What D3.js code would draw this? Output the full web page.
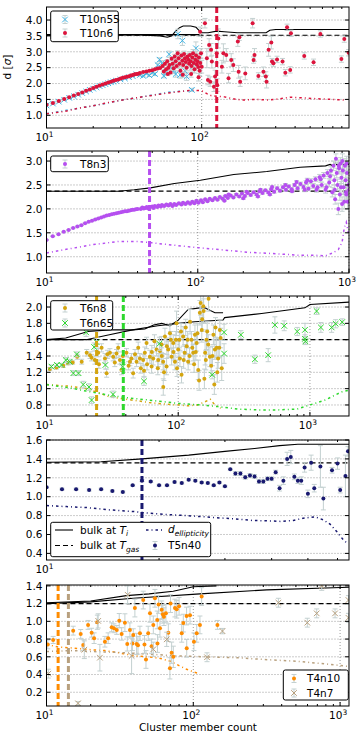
<!DOCTYPE html>
<html>
<head>
<meta charset="utf-8">
<script src="https://cdn.jsdelivr.net/npm/d3@7"></script>
<style>
  body { margin: 0; background: #fff; }
  svg { display: block; }
  svg text { font-family: "DejaVu Sans", sans-serif; fill: #000; }
</style>
</head>
<body>
<script>
const width = 360;
const height = 750;
const left = 46.5;
const right = 349;

// ---- panel 1 : T10 ----
const t10n55 = [[10,1.31,.01],[11,1.37,.01],[12,1.43,.01],[13,1.49,.01],[14,1.55,.01],[15,1.6,.01],[16,1.65,.01],[17,1.7,.01],[18,1.75,.01],[19,1.8,.01],[20,1.84,.01],[21,1.88,.01],[22,1.92,.01],[23,1.95,.01],[24,1.98,.01],[25,2.01,.01],[26,2.04,.01],[27,2.06,.01],[28,2.09,.01],[30,2.13,.02],[32,2.16,.02],[34,2.2,.02],[36,2.23,.02],[38,2.29,.02],[40,2.27,.03],[42,2.24,.03],[44,2.31,.03],[46,2.26,.04],[48,2.34,.04],[50,2.3,.05],[52,2.58,.06],[53.5,2.75,.06],[55.4,2.64,.08],[57,2.24,.06],[59,2.35,.08],[61.7,2.92,.1],[64.2,2.53,.1],[66,2.42,.1],[68,2.3,.1],[70.2,3.56,.15],[72.6,2.27,.1],[75.1,3.35,.15],[78,2.4,.15],[80,2.22,.12],[86.4,1.8,.05],[88,2.55,.2],[91.8,3.11,.2]];
const t10n6 = [[10,1.33,.01],[11,1.39,.01],[12,1.45,.01],[13,1.51,.01],[14,1.57,.01],[15,1.62,.01],[16,1.67,.01],[17,1.72,.01],[18,1.77,.01],[19,1.81,.01],[20,1.86,.01],[21,1.9,.01],[22,1.94,.01],[23,1.97,.01],[24,2.0,.01],[25,2.03,.01],[26,2.06,.01],[27,2.09,.01],[28,2.11,.01],[29,2.13,.01],[30,2.16,.01],[31,2.18,.01],[32,2.2,.01],[33,2.21,.01],[34,2.23,.01],[35,2.25,.01],[36,2.27,.01],[37,2.29,.01],[38,2.3,.01],[39,2.31,.01],[40,2.33,.01],[42,2.36,.01],[44,2.38,.02],[46,2.4,.02],[48,2.42,.02],[50,2.45,.02],[52,2.47,.02],[54,2.49,.02],
  [56,2.55,.04],[57,2.38,.04],[58,2.62,.05],[59,2.45,.04],[60,2.7,.05],[60.5,2.3,.05],[61,2.5,.05],[62,2.58,.05],[63,2.35,.05],[64,2.78,.06],[65,2.62,.06],[66,2.48,.06],[67,2.85,.07],[68,2.7,.07],[69,2.55,.07],[70,2.95,.08],[71,2.8,.08],[72,2.62,.08],[73,2.4,.08],[74,2.88,.08],[75,2.72,.08],[75.5,2.28,.08],[76,2.58,.09],[77,2.93,.09],[78,2.8,.09],[79,2.68,.09],[80,2.5,.1],[81,2.85,.1],[82,2.75,.1],[83,2.62,.1],[84,2.9,.1],[85,2.7,.1],[85.5,2.3,.1],[86,2.55,.1],[87,2.82,.1],[88,2.95,.12],[89,2.65,.12],[90,2.45,.12],[91,2.75,.12],[92,2.88,.12],[93,2.6,.12],[94,2.7,.12],[95,2.52,.12],[95.5,2.2,.12],[96,2.82,.12],[97,2.4,.15],[98,2.65,.15],[99,2.95,.15],
  [97.7,3.63,.15],[100,2.53,.2],[105,3.9,.15],[108,2.8,.3],[109.7,2.11,.15],[111.7,3.21,.2],[113.5,2.06,.15],[115,3.06,.2],[116.3,2.69,.2],[120,1.9,.15],[122,2.22,.2],[125,2.95,.3],[126,1.95,.2],[128,3.42,.3],[135,2.53,.2],[138,2.95,.3],[144,2.9,.2],[149,2.17,.15],[155,2.74,.2],[160,2.58,.2],[171,3.32,.15],[173,2.37,.2],[175,3.46,.1],[177,2.06,.15],[191,2.32,.2],[213,3.9,.15],[216,2.74,.1],[219,2.9,.2],[232,2.24,.1],[250,2.37,.15],[259,2.22,.15],[262,2.06,.2],[270,3.06,.2],[281,3.29,.2],[284,2.69,.1],[290,2.64,.1],[306,2.76,.1],[332,2.69,.1],[346,2.34,.1],[355,3.77,.1],[372,2.43,.1],[376,3.58,.1],[458,2.87,.1],[526,2.67,.1],[582,3.56,.1],[795,2.77,.1],[830,3.4,.1],[885,2.97,.1]];
const t10n55Ell = [[10,1.05],[20,1.3],[30,1.47],[40,1.57],[50,1.65],[60,1.72],[70,1.75],[80,1.77],[88,1.78]];
const t10n6Ell = [[10,1.05],[13,1.12],[16,1.22],[20,1.3],[25,1.4],[30,1.47],[40,1.57],[50,1.64],[60,1.7],[70,1.74],[80,1.77],[90,1.79],[100,1.77],[108,1.68],[115,1.62],[125,1.6],[140,1.58],[160,1.52],[180,1.48],[220,1.5],[270,1.48],[320,1.52],[372,1.57],[450,1.55],[550,1.52],[700,1.5],[850,1.48]];
const t10BulkA = [[10,3.53],[40,3.53],[54,3.5],[60,3.46],[64,3.5],[68,3.65],[72,3.76],[76,3.81],[85,3.81],[92,3.77],[97,3.65],[100,3.6],[110,3.6],[125,3.65],[140,3.63],[170,3.6],[200,3.6],[260,3.6],[275,3.68],[300,3.7],[890,3.7]];
const t10BulkB = [[10,3.54],[60,3.54],[97,3.54]];
const t10Gas = 3.52;
const t10Cut = [125];

// ---- panel 2 : T8 ----
const t8n3 = [[10,1.35,.01],[11,1.43,.01],[12,1.47,.01],[13,1.52,.01],[14,1.56,.01],[15,1.6,.01],[16,1.63,.01],[17,1.66,.01],[18,1.7,.01],[19,1.73,.01],[20,1.75,.01],[21,1.78,.01],[22,1.8,.01],[23,1.82,.01],[24,1.84,.01],[25,1.86,.01],[26,1.87,.01],[27,1.89,.01],[28,1.9,.01],[29,1.91,.01],[30,1.92,.01],[31,1.93,.01],[32,1.94,.01],[33,1.95,.01],[34,1.95,.01],[35,1.96,.01],[36,1.97,.01],[37,1.98,.01],[38,1.98,.01],[39,1.99,.01],[40,2.0,.01],
  [42,2.0,.01],[43,2.03,.01],[44,2.01,.01],[45,2.02,.01],[46,2.04,.01],[47,2.01,.01],[48,2.03,.01],[50,2.05,.01],[51,2.02,.01],[52,2.06,.01],[54,2.04,.01],[55,2.07,.01],[57,2.05,.01],[58,2.08,.01],[60,2.06,.01],[62,2.09,.01],[64,2.07,.01],[66,2.1,.01],[68,2.06,.01],[70,2.1,.01],[72,2.08,.01],[75,2.12,.01],[78,2.09,.01],[80,2.13,.01],[83,2.1,.01],[86,2.14,.01],[89,2.11,.01],[92,2.15,.01],[95,2.12,.01],[98,2.17,.01],[101,2.13,.01],[105,2.18,.01],[108,2.14,.01],[112,2.2,.01],[116,2.16,.01],[120,2.21,.01],[125,2.18,.01],[130,2.23,.01],[135,2.19,.01],[140,2.25,.01],[146,2.21,.01],[150,2.17,.01],[152,2.27,.01],[158,2.23,.01],[160,2.3,.01],[165,2.28,.01],[172,2.24,.01],[180,2.3,.02],[188,2.26,.02],[196,2.32,.02],[200,2.22,.02],[205,2.27,.02],[210,2.36,.02],[214,2.33,.02],[224,2.29,.02],[234,2.35,.02],[245,2.3,.02],[250,2.26,.02],[256,2.37,.02],[260,2.4,.02],[268,2.33,.02],[280,2.39,.02],[293,2.34,.02],[300,2.3,.02],[306,2.41,.02],[310,2.46,.02],[320,2.36,.03],[335,2.43,.03],[350,2.38,.03],[366,2.45,.03],[380,2.5,.03],[383,2.4,.03],[400,2.47,.03],[418,2.41,.03],[420,2.37,.03],[437,2.5,.03],[450,2.56,.03],[457,2.43,.03],[478,2.52,.04],[500,2.46,.04],[510,2.4,.04],[520,2.55,.04],[530,2.6,.04],[540,2.42,.04],[560,2.58,.05],[580,2.48,.05],[600,2.62,.05],[610,2.4,.05],[620,2.45,.05],[640,2.66,.06],[650,2.62,.06],[660,2.5,.06],[680,2.7,.06],[700,2.4,.07],[710,2.45,.07],[720,2.75,.07],[740,2.55,.08],[750,2.68,.08],[760,2.8,.08],[775,2.35,.1],[790,2.9,.1],[800,2.6,.1],[805,2.4,.1],[810,2.2,.1],[820,3.05,.1],[830,2.75,.1],[840,2.5,.12],[850,2.0,.12],[855,2.9,.12],[860,2.85,.12],[870,2.3,.12],[880,2.95,.12],[885,2.45,.12],[890,2.65,.12],[900,2.1,.15],[905,3.0,.15],[910,2.8,.15],[920,2.45,.15],[930,2.15,.15],[940,2.9,.15],[950,2.6,.15],[955,2.35,.15],[960,2.3,.15],[965,2.95,.15],[970,2.75,.15],[980,2.15,.15],[990,2.5,.15],[1000,2.4,.15]];
const t8n3Ell = [[10,1.08],[15,1.18],[20,1.25],[30,1.32],[40,1.32],[50,1.29],[70,1.24],[100,1.19],[150,1.14],[222,1.09],[300,1.07],[475,1.03],[600,1.03],[700,1.02],[780,1.08],[850,1.15],[900,1.3],[930,1.6],[960,1.72],[990,1.5]];
const t8Bulk = [[10,2.37],[30,2.37],[38,2.4],[48.7,2.44],[70,2.53],[104,2.6],[173,2.72],[286,2.78],[475,2.87],[700,2.9],[750,2.93],[780,2.9],[810,2.96],[840,2.91],[870,2.97],[900,2.93],[1000,2.93]];
const t8Gas = 2.37;
const t8Cut = [48];

// ---- panel 3 : T6 ----
const t6n8 = [[10.6,1.24,.02],[11.9,1.26,.02],[13.4,1.28,.02],[14.6,1.31,.02],[15.8,1.32,.02],[17.1,1.39,.03],[18.5,1.33,.03],[20.2,1.44,.04],[21.4,1.41,.04],[22,1.38,.04],[23.3,1.35,.05],[24.7,1.44,.05],[25,1.3,.05],[26.2,1.5,.05],[27.8,1.37,.06],[28.6,1.19,.05],[29,1.42,.05],[30.3,1.44,.05],[32.1,1.39,.05],[33,1.32,.05],[34,1.43,.05],[35,1.5,.05],[36.1,1.35,.05],[37.1,1.23,.06],[38,1.4,.05],[40.5,1.44,.05],[42,1.28,.05],[43,1.33,.05],[44.2,1.37,.06],[45.5,1.19,.06],[47,1.42,.06],[48.3,1.33,.06],[49.7,1.5,.07],[51.2,1.37,.06],[52,1.25,.06],[54.2,1.35,.07],[55,1.22,.07],[55.8,1.44,.07],[57.5,1.56,.07],[58,1.3,.07],[60.9,1.39,.08],[62.8,1.27,.08],[63,1.45,.08],[64.6,1.37,.08],[66,1.58,.08],[68.5,1.48,.08],[70,1.25,.08],[70.5,1.35,.08],[72.6,1.46,.1],[74.8,1.54,.1],[75,1.4,.1],[76.9,1.33,.1],[77,1.02,.1],[78,1.2,.1],[79.3,1.64,.1],[81.6,1.27,.1],[82,1.52,.1],[84,1.48,.1],[86.5,1.68,.1],[88,1.6,.1],[89.1,1.39,.1],[91.7,1.56,.1],[92,1.45,.1],[94.4,1.33,.1],[96,1.6,.1],[97.2,1.8,.15],[98,1.25,.1],[100,1.48,.1],[102,1.6,.1],[103,1.37,.1],[105,1.7,.1],[106,1.17,.1],[109,1.64,.12],[110,1.35,.1],[112,1.44,.1],[114,1.75,.1],[116,1.52,.1],[118,1.6,.1],[119,1.33,.1],[122,1.4,.1],[123,1.82,.15],[126,1.6,.1],[128,1.5,.1],[130,1.44,.1],[132,1.3,.1],[134,1.66,.12],[136,1.45,.1],[138,1.56,.1],[140,1.68,.12],[142,1.23,.12],[144,1.1,.12],[146,1.93,.15],[148,2.05,.15],[151,1.72,.15],[152,1.85,.15],[155,2.01,.2],[156,1.95,.15],[158,1.12,.12],[160,1.44,.15],[162,1.35,.12],[164,1.6,.12],[166,1.7,.12],[169,1.54,.12],[170,2.1,.15],[174,1.39,.12],[178,1.28,.12],[182,1.4,.12],[185,1.66,.12],[188,1.05,.12],[190,1.48,.12],[192,1.75,.12],[196,1.5,.12],[198,1.2,.12],[201,1.37,.12],[205,1.5,.12],[207,1.72,.12],[210,1.62,.12],[214,1.25,.15]];
const t6n65 = [[10.9,1.27,.02],[12,1.29,.02],[13,1.29,.02],[14,1.35,.03],[15,1.33,.03],[16,1.19,.03],[17,1.42,.03],[17.5,1.19,.03],[19,1.05,.04],[20,1.69,.05],[21,1.02,.04],[22,0.86,.04],[23,1.51,.05],[24,1.57,.06],[28,1.29,.05],[32,0.93,.04],[38,1.27,.05],[55,1.09,.05],[72,1.55,.08],[181,1.17,.05],[223,1.69,.1],[223,1.43,.12],[299,1.66,.05],[382,1.36,.05],[482,1.41,.08],[542,1.78,.1],[638,1.77,.06],[801,1.7,.05],[917,1.72,.08],[917,1.61,.05],[925,1.58,.04],[1124,1.95,.04],[1211,1.75,.06],[1462,1.75,.06],[1568,1.795,.05],[1758,1.815,.04]];
const t6n8Ell = [[10,1.05],[15,1.03],[20,1.0],[25,0.95],[30,0.9],[40,0.87],[50,0.85],[60,0.83],[80,0.81],[100,0.8],[120,0.79],[140,0.8],[160,0.84],[175,0.87],[190,0.8],[210,0.76]];
const t6n65Ell = [[10,1.05],[15,1.01],[20,0.97],[30,0.92],[40,0.89],[60,0.86],[100,0.82],[150,0.8],[200,0.78],[286,0.75],[400,0.74],[575,0.74],[800,0.75],[1000,0.8],[1300,0.86],[1740,0.96],[1980,0.98]];
const t6BulkA = [[10,1.6],[14,1.62],[20.7,1.7],[30,1.72],[45,1.72],[55.8,1.73],[65,1.78],[75,1.8],[86.5,1.77],[100,1.84],[119,1.97],[146,1.99],[159,1.99],[190,1.93],[219,1.93]];
const t6BulkB = [[10,1.6],[20,1.6],[30,1.66],[45,1.72],[70,1.77],[100,1.8],[133,1.82],[219,1.84],[225,1.87],[430,1.92],[917,1.99],[1000,2.03],[1980,2.06]];
const t6Gas = 1.6;
const t6Cut = [24, 38.3];

// ---- panel 4 : T5 ----
const t5n40 = [[10,1.10,.01],[11,1.08,.01],[12,1.08,.01],[13,1.07,.01],[14,1.08,.01],[15,1.06,.01],[16,1.05,.01],[17,1.12,.01],[18,1.17,.01],[19,1.16,.01],[20,1.12,.01],[21,1.12,.01],[22,1.155,.01],[23,1.145,.01],[24,1.18,.01],[25,1.17,.01],[26,1.15,.01],[27,1.145,.01],[28,1.12,.01],[29,1.15,.01],[30,1.11,.01],[31,1.29,.01],[32,1.245,.02],[33,1.245,.02],[34,1.205,.02],[35,1.225,.02],[36,1.215,.02],[37,1.16,.02],[38,1.16,.02],[39,1.19,.02],[40,1.19,.02],[41,1.26,.02],[42,1.09,.03],[43,1.17,.04],[44,1.40,.07],[45,1.42,.07],[46,1.21,.03],[47,1.17,.03],[48,1.17,.04],[49,1.31,.05],[50,1.03,.04],[51,1.36,.08],[52,1.09,.04],[54,1.32,.22],[55,0.98,.12],[58,1.28,.03],[60,1.35,.06],[61,1.07,.03],[63,1.22,.22],[64,1.48,.05]];
const t5n40Ell = [[10,0.906],[11.3,0.895],[12.8,0.885],[14.8,0.86],[17.1,0.843],[18.1,0.832],[20.5,0.814],[23.7,0.8],[27.9,0.78],[31.6,0.766],[35.7,0.748],[38.8,0.745],[42.5,0.738],[45.7,0.748],[48.6,0.773],[52.2,0.787],[55,0.755],[57.3,0.709],[59.7,0.631],[62.2,0.543],[64,0.5]];
const t5Bulk = [[10,1.365],[14,1.37],[18,1.40],[24,1.44],[30,1.48],[36,1.51],[42,1.54],[47,1.555],[64.4,1.555]];
const t5Gas = 1.357;
const t5Cut = [18];

// ---- panel 5 : T4 ----
const t4n10 = [[10.2,0.74,.05],[11.1,0.79,.04],[15.2,0.895,.05],[17.1,0.858,.05],[17.8,0.733,.06],[19.2,0.96,.05],[20.3,0.872,.05],[21.1,0.81,.06],[22.2,0.99,.08],[25,0.77,.06],[26.3,0.81,.06],[27.8,0.933,.05],[28.8,0.922,.05],[30.1,0.903,.05],[31.3,1.008,.08],[32.5,0.858,.07],[34.2,0.985,.1],[35.5,0.745,.08],[37,0.903,.08],[38.5,0.75,.08],[39,0.846,.07],[40,1.15,.1],[41.1,0.745,.12],[42,0.73,.1],[43.3,0.865,.08],[45.6,1.24,.1],[46.5,0.74,.1],[47.6,0.57,.1],[49.3,0.865,.08],[50.7,1.09,.1],[52,0.72,.08],[53.4,0.96,.1],[54.8,1.26,.1],[56.8,1.016,.1],[57,0.75,.1],[58,1.19,.1],[59.3,0.922,.1],[60.9,1.13,.1],[62,1.08,.1],[63.1,1.053,.1],[65.1,1.09,.1],[67.6,0.872,.1],[69.3,0.47,.12],[70,1.2,.1],[71.2,0.646,.12],[73.1,0.6,.12],[75,1.15,.1],[77.1,1.137,.1],[80,1.17,.1],[83.4,0.865,.1],[85.5,0.98,.1],[90,1.06,.1],[90.2,0.696,.1],[95,1.07,.1],[101,0.77,.1],[105.5,0.865,.1],[111,0.96,.1],[114,1.28,.1],[146,0.96,.05]];
const t4n7 = [[10.3,0.41,.05],[16.4,0.075,.02],[18.1,0.68,.1],[22.5,1.005,.08],[23.1,0.59,.15],[35.7,1.3,.1],[38,0.61,.2],[53.4,0.685,.08],[65.9,0.797,.08],[124,0.595,.05],[158,0.89,.03],[380,1.21,.05],[598,0.985,.05],[693,1.09,.05],[750,1.4,.05],[924,1.09,.05],[1140,1.24,.05],[1140,1.04,.05]];
const t4n10Ell = [[10,0.74],[12,0.71],[15,0.7],[20,0.68],[25,0.67],[30,0.65],[40,0.61],[50,0.6],[60,0.58],[70,0.55],[80,0.5],[90,0.46],[100,0.43],[110,0.41]];
const t4n7Ell = [[10,0.66],[15,0.67],[20,0.66],[30,0.65],[50,0.63],[80,0.61],[120,0.6],[200,0.59],[300,0.57],[500,0.55],[800,0.52],[1150,0.49]];
const t4BulkA = [[10,1.21],[20,1.23],[35,1.29],[50,1.31],[73,1.34],[100,1.39],[144,1.4]];
const t4BulkB = [[10,1.2],[20,1.22],[39,1.26],[111,1.31],[316,1.355],[1150,1.385]];
const t4Gas = 1.2;
const t4Cut = [12, 14.1];

// ---- drawing ----
const errColor = '#c3d0d0';
const ellDash = '2.5,3,1,3';
const colors = {
  t10n55: '#3cb4e6', t10n6: '#dc143c', t8n3: '#b64ff0', t6n8: '#d4a50f',
  t6n65: '#2ed82e', t5n40: '#191970', t4n10: '#ff8c00', t4n7: '#b8a07e'
};

const panels = [
  { top: 7, bottom: 128, xDomain: [10, 890], yDomain: [0.6, 4.41], yTicks: [1, 1.5, 2, 2.5, 3, 3.5, 4],
    gas: [t10Gas], bulk: [t10BulkA, t10BulkB],
    series: [
      { name: 'T10n55', data: t10n55, ell: t10n55Ell, color: colors.t10n55, marker: 'x' },
      { name: 'T10n6', data: t10n6, ell: t10n6Ell, color: colors.t10n6, marker: 'dot', cut: t10Cut }
    ],
    legend: { box: [50.7, 11, 67.6, 30.7], rows: [19.5, 33], mx: 65, tx: 80 } },
  { top: 151, bottom: 273, xDomain: [10, 1000], yDomain: [0.66, 3.21], yTicks: [1, 1.5, 2, 2.5, 3],
    gas: [t8Gas], bulk: [t8Bulk],
    series: [
      { name: 'T8n3', data: t8n3, ell: t8n3Ell, color: colors.t8n3, marker: 'dot', cut: t8Cut }
    ],
    legend: { box: [50.7, 156, 57.6, 15.7], rows: [164], mx: 65, tx: 80 } },
  { top: 296, bottom: 416, xDomain: [10, 1980], yDomain: [0.665, 2.135], yTicks: [0.8, 1, 1.2, 1.4, 1.6, 1.8, 2],
    gas: [t6Gas], bulk: [t6BulkA, t6BulkB],
    series: [
      { name: 'T6n8', data: t6n8, ell: t6n8Ell, color: colors.t6n8, marker: 'dot', cut: [t6Cut[0]] },
      { name: 'T6n65', data: t6n65, ell: t6n65Ell, color: colors.t6n65, marker: 'x', cut: [t6Cut[1]] }
    ],
    legend: { box: [50.7, 300.7, 62, 29.3], rows: [308, 323], mx: 65, tx: 80 } },
  { top: 440, bottom: 560, xDomain: [10, 64.4], yDomain: [0.33, 1.6], yTicks: [0.4, 0.6, 0.8, 1, 1.2, 1.4, 1.6],
    gas: [t5Gas], bulk: [t5Bulk],
    series: [
      { name: 'T5n40', data: t5n40, ell: t5n40Ell, color: colors.t5n40, marker: 'dot', cut: t5Cut }
    ],
    legend: null },
  { top: 585, bottom: 706, xDomain: [10, 1150], yDomain: [0.045, 1.41], yTicks: [0.2, 0.4, 0.6, 0.8, 1, 1.2, 1.4],
    gas: [t4Gas], bulk: [t4BulkA, t4BulkB],
    series: [
      { name: 'T4n10', data: t4n10, ell: t4n10Ell, color: colors.t4n10, marker: 'dot', cut: [t4Cut[0]] },
      { name: 'T4n7', data: t4n7, ell: t4n7Ell, color: colors.t4n7, marker: 'x', cut: [t4Cut[1]] }
    ],
    legend: { box: [283.3, 670, 65, 30], rows: [678.5, 693], mx: 294, tx: 307 } }
];

const svg = d3.select('body').append('svg')
  .attr('width', width)
  .attr('height', height);

function drawMarker(g, type, cx, cy, color) {
  if (type === 'x') {
    const s = 2.8;
    g.append('path')
      .attr('d', `M${cx - s},${cy - s}L${cx + s},${cy + s}M${cx - s},${cy + s}L${cx + s},${cy - s}`)
      .attr('stroke', color).attr('stroke-width', 1).attr('fill', 'none');
  } else {
    g.append('circle').attr('cx', cx).attr('cy', cy).attr('r', 2).attr('fill', color);
  }
}

function errBar(g, cx, y0, y1) {
  g.append('path')
    .attr('d', `M${cx},${y0}L${cx},${y1}M${cx - 2.5},${y0}L${cx + 2.5},${y0}M${cx - 2.5},${y1}L${cx + 2.5},${y1}`)
    .attr('stroke', errColor).attr('stroke-width', 1).attr('fill', 'none');
}

function addText(g, x, y, parts, anchor) {
  const t = g.append('text').attr('x', x).attr('y', y).attr('font-size', 10.5)
    .attr('text-anchor', anchor || 'start');
  let shift = 0;
  parts.forEach(p => {
    const ts = t.append('tspan').text(p.t);
    const target = p.sub ? 2.5 : p.sup ? -4.5 : 0;
    if (target !== shift) { ts.attr('dy', target - shift); shift = target; }
    if (p.sub || p.sup) ts.attr('font-size', 7.5);
    if (p.i) ts.attr('font-style', 'italic');
  });
  return t;
}

panels.forEach((p, idx) => {
  const x = d3.scaleLog().domain(p.xDomain).range([left, right]);
  const y = d3.scaleLinear().domain(p.yDomain).range([p.bottom, p.top]);
  const g = svg.append('g');

  g.append('clipPath').attr('id', 'clip' + idx)
    .append('rect').attr('x', left).attr('y', p.top)
    .attr('width', right - left).attr('height', p.bottom - p.top);

  // decades and minor ticks
  const decades = [];
  const minors = [];
  for (let b = 10; b <= p.xDomain[1]; b *= 10) {
    decades.push(b);
    for (let k = 2; k <= 9; k++) if (b * k <= p.xDomain[1]) minors.push(b * k);
  }

  // grid
  p.yTicks.forEach(v => {
    g.append('line').attr('x1', left).attr('x2', right).attr('y1', y(v)).attr('y2', y(v))
      .attr('stroke', '#555').attr('stroke-width', 0.6).attr('stroke-dasharray', '1,2');
  });
  decades.forEach(v => {
    g.append('line').attr('x1', x(v)).attr('x2', x(v)).attr('y1', p.top).attr('y2', p.bottom)
      .attr('stroke', '#555').attr('stroke-width', 0.6).attr('stroke-dasharray', '1,2');
  });

  const plot = g.append('g').attr('clip-path', `url(#clip${idx})`);
  const line = d3.line().x(d => x(d[0])).y(d => y(d[1]));

  // bulk lines
  p.gas.forEach(v => {
    plot.append('line').attr('x1', left).attr('x2', right).attr('y1', y(v)).attr('y2', y(v))
      .attr('stroke', '#000').attr('stroke-width', 1.2).attr('stroke-dasharray', '5,3');
  });
  p.bulk.forEach(l => {
    plot.append('path').datum(l).attr('d', line)
      .attr('fill', 'none').attr('stroke', '#000').attr('stroke-width', 1.1);
  });

  // ellipticity
  p.series.forEach(s => {
    plot.append('path').datum(s.ell).attr('d', line)
      .attr('fill', 'none').attr('stroke', s.color).attr('stroke-width', 1.5)
      .attr('stroke-dasharray', ellDash);
  });

  // error bars then markers
  p.series.forEach(s => {
    const eg = plot.append('g');
    s.data.forEach(d => errBar(eg, x(d[0]), y(d[1] - d[2]), y(d[1] + d[2])));
    const mg = plot.append('g');
    s.data.forEach(d => drawMarker(mg, s.marker, x(d[0]), y(d[1]), s.color));
  });

  // cut lines
  p.series.forEach(s => {
    (s.cut || []).forEach(v => {
      plot.append('line').attr('x1', x(v)).attr('x2', x(v)).attr('y1', p.top).attr('y2', p.bottom)
        .attr('stroke', s.color).attr('stroke-width', 3).attr('stroke-dasharray', '6,3');
    });
  });

  // frame
  g.append('rect').attr('x', left).attr('y', p.top)
    .attr('width', right - left).attr('height', p.bottom - p.top)
    .attr('fill', 'none').attr('stroke', '#000').attr('stroke-width', 1);

  // ticks
  p.yTicks.forEach(v => {
    g.append('path').attr('d', `M${left},${y(v)}h4M${right},${y(v)}h-4`).attr('stroke', '#000');
    g.append('text').attr('x', left - 4).attr('y', y(v)).attr('dy', '0.36em')
      .attr('text-anchor', 'end').attr('font-size', 10.5).text(d3.format('.1f')(v));
  });
  decades.forEach((v, i) => {
    g.append('path').attr('d', `M${x(v)},${p.bottom}v-4M${x(v)},${p.top}v4`).attr('stroke', '#000');
    addText(g, x(v) - 2, p.bottom + 13, [{ t: '10' }, { t: String(i + 1), sup: true }], 'middle');
  });
  minors.forEach(v => {
    g.append('path').attr('d', `M${x(v)},${p.bottom}v-2M${x(v)},${p.top}v2`).attr('stroke', '#000');
  });

  // legend
  if (p.legend) {
    const L = p.legend;
    const lg = g.append('g');
    lg.append('rect').attr('x', L.box[0]).attr('y', L.box[1]).attr('width', L.box[2]).attr('height', L.box[3])
      .attr('rx', 2).attr('fill', '#fff').attr('stroke', '#000').attr('stroke-width', 1);
    p.series.forEach((s, i) => {
      const ry = L.rows[i];
      errBar(lg, L.mx, ry + 4, ry - 4);
      drawMarker(lg, s.marker, L.mx, ry, s.color);
      lg.append('text').attr('x', L.tx).attr('y', ry).attr('dy', '0.36em')
        .attr('font-size', 10.5).text(s.name);
    });
  } else {
    const s = p.series[0];
    const lg = g.append('g');
    lg.append('rect').attr('x', 50.7).attr('y', 522.3).attr('width', 160).attr('height', 34.4)
      .attr('rx', 2).attr('fill', '#fff').attr('stroke', '#000').attr('stroke-width', 1);
    lg.append('line').attr('x1', 55).attr('x2', 73).attr('y1', 530).attr('y2', 530)
      .attr('stroke', '#000').attr('stroke-width', 1.1);
    addText(lg, 80, 533.5, [{ t: 'bulk at ' }, { t: 'T', i: true }, { t: 'i', i: true, sub: true }]);
    lg.append('line').attr('x1', 55).attr('x2', 73).attr('y1', 545.5).attr('y2', 545.5)
      .attr('stroke', '#000').attr('stroke-width', 1.2).attr('stroke-dasharray', '5,3');
    addText(lg, 80, 549, [{ t: 'bulk at ' }, { t: 'T', i: true }, { t: 'gas', i: true, sub: true }]);
    lg.append('line').attr('x1', 146).attr('x2', 164).attr('y1', 530).attr('y2', 530)
      .attr('stroke', s.color).attr('stroke-width', 1.5).attr('stroke-dasharray', ellDash);
    addText(lg, 168, 533, [{ t: 'd', i: true }, { t: 'ellipticity', i: true, sub: true }]);
    errBar(lg, 155, 549.5, 541.5);
    drawMarker(lg, 'dot', 155, 545.5, s.color);
    lg.append('text').attr('x', 168).attr('y', 545.5).attr('dy', '0.36em')
      .attr('font-size', 10.5).text(s.name);
  }
});

// axis titles
const yl = svg.append('text')
  .attr('transform', 'translate(11,67) rotate(-90)')
  .attr('text-anchor', 'middle').attr('font-size', 10.5);
yl.append('tspan').text('d [');
yl.append('tspan').attr('font-style', 'italic').text('σ');
yl.append('tspan').text(']');

svg.append('text').attr('x', 198).attr('y', 731).attr('text-anchor', 'middle')
  .attr('font-size', 10.5).text('Cluster member count');
</script>
</body>
</html>
